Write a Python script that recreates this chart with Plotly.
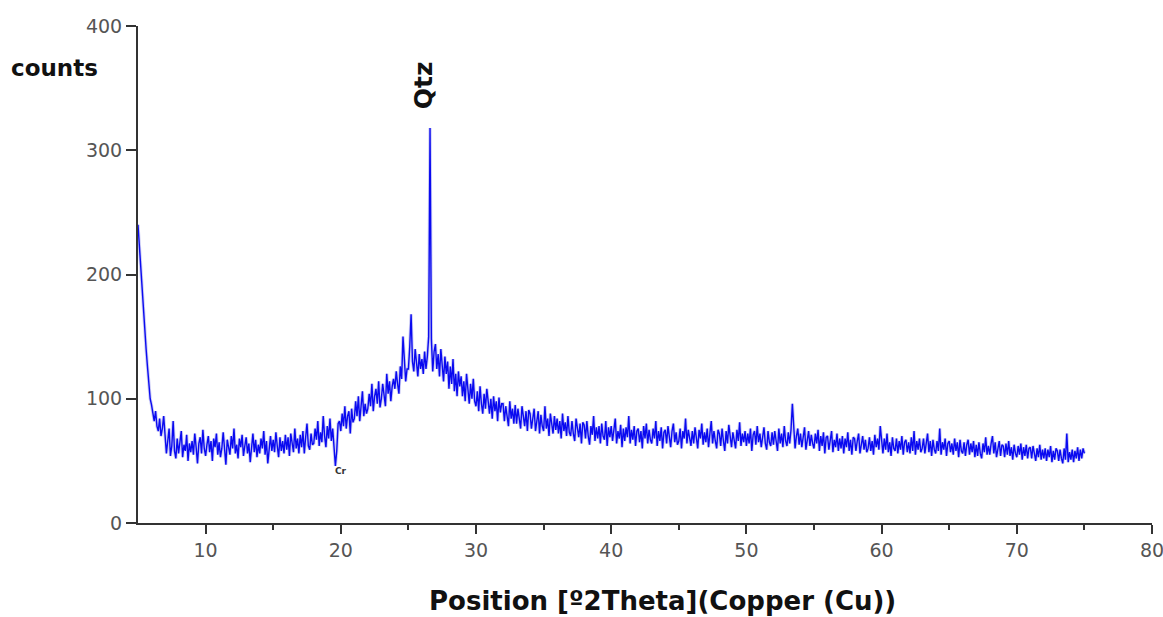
import plotly.graph_objects as go

# 2-theta positions (degrees), one row per degree
two_theta = [
    5.0, 5.1, 5.2, 5.3, 5.4, 5.5, 5.6, 5.7, 5.8, 5.9,
    6.0, 6.1, 6.2, 6.3, 6.4, 6.5, 6.6, 6.7, 6.8, 6.9,
    7.0, 7.1, 7.2, 7.3, 7.4, 7.5, 7.6, 7.7, 7.8, 7.9,
    8.0, 8.1, 8.2, 8.3, 8.4, 8.5, 8.6, 8.7, 8.8, 8.9,
    9.0, 9.1, 9.2, 9.3, 9.4, 9.5, 9.6, 9.7, 9.8, 9.9,
    10.0, 10.1, 10.2, 10.3, 10.4, 10.5, 10.6, 10.7, 10.8, 10.9,
    11.0, 11.1, 11.2, 11.3, 11.4, 11.5, 11.6, 11.7, 11.8, 11.9,
    12.0, 12.1, 12.2, 12.3, 12.4, 12.5, 12.6, 12.7, 12.8, 12.9,
    13.0, 13.1, 13.2, 13.3, 13.4, 13.5, 13.6, 13.7, 13.8, 13.9,
    14.0, 14.1, 14.2, 14.3, 14.4, 14.5, 14.6, 14.7, 14.8, 14.9,
    15.0, 15.1, 15.2, 15.3, 15.4, 15.5, 15.6, 15.7, 15.8, 15.9,
    16.0, 16.1, 16.2, 16.3, 16.4, 16.5, 16.6, 16.7, 16.8, 16.9,
    17.0, 17.1, 17.2, 17.3, 17.4, 17.5, 17.6, 17.7, 17.8, 17.9,
    18.0, 18.1, 18.2, 18.3, 18.4, 18.5, 18.6, 18.7, 18.8, 18.9,
    19.0, 19.1, 19.2, 19.3, 19.4, 19.5, 19.6, 19.7, 19.8, 19.9,
    20.0, 20.1, 20.2, 20.3, 20.4, 20.5, 20.6, 20.7, 20.8, 20.9,
    21.0, 21.1, 21.2, 21.3, 21.4, 21.5, 21.6, 21.7, 21.8, 21.9,
    22.0, 22.1, 22.2, 22.3, 22.4, 22.5, 22.6, 22.7, 22.8, 22.9,
    23.0, 23.1, 23.2, 23.3, 23.4, 23.5, 23.6, 23.7, 23.8, 23.9,
    24.0, 24.1, 24.2, 24.3, 24.4, 24.5, 24.6, 24.7, 24.8, 24.9,
    25.0, 25.1, 25.2, 25.3, 25.4, 25.5, 25.6, 25.7, 25.8, 25.9,
    26.0, 26.1, 26.2, 26.3, 26.4, 26.5, 26.6, 26.7, 26.8, 26.9,
    27.0, 27.1, 27.2, 27.3, 27.4, 27.5, 27.6, 27.7, 27.8, 27.9,
    28.0, 28.1, 28.2, 28.3, 28.4, 28.5, 28.6, 28.7, 28.8, 28.9,
    29.0, 29.1, 29.2, 29.3, 29.4, 29.5, 29.6, 29.7, 29.8, 29.9,
    30.0, 30.1, 30.2, 30.3, 30.4, 30.5, 30.6, 30.7, 30.8, 30.9,
    31.0, 31.1, 31.2, 31.3, 31.4, 31.5, 31.6, 31.7, 31.8, 31.9,
    32.0, 32.1, 32.2, 32.3, 32.4, 32.5, 32.6, 32.7, 32.8, 32.9,
    33.0, 33.1, 33.2, 33.3, 33.4, 33.5, 33.6, 33.7, 33.8, 33.9,
    34.0, 34.1, 34.2, 34.3, 34.4, 34.5, 34.6, 34.7, 34.8, 34.9,
    35.0, 35.1, 35.2, 35.3, 35.4, 35.5, 35.6, 35.7, 35.8, 35.9,
    36.0, 36.1, 36.2, 36.3, 36.4, 36.5, 36.6, 36.7, 36.8, 36.9,
    37.0, 37.1, 37.2, 37.3, 37.4, 37.5, 37.6, 37.7, 37.8, 37.9,
    38.0, 38.1, 38.2, 38.3, 38.4, 38.5, 38.6, 38.7, 38.8, 38.9,
    39.0, 39.1, 39.2, 39.3, 39.4, 39.5, 39.6, 39.7, 39.8, 39.9,
    40.0, 40.1, 40.2, 40.3, 40.4, 40.5, 40.6, 40.7, 40.8, 40.9,
    41.0, 41.1, 41.2, 41.3, 41.4, 41.5, 41.6, 41.7, 41.8, 41.9,
    42.0, 42.1, 42.2, 42.3, 42.4, 42.5, 42.6, 42.7, 42.8, 42.9,
    43.0, 43.1, 43.2, 43.3, 43.4, 43.5, 43.6, 43.7, 43.8, 43.9,
    44.0, 44.1, 44.2, 44.3, 44.4, 44.5, 44.6, 44.7, 44.8, 44.9,
    45.0, 45.1, 45.2, 45.3, 45.4, 45.5, 45.6, 45.7, 45.8, 45.9,
    46.0, 46.1, 46.2, 46.3, 46.4, 46.5, 46.6, 46.7, 46.8, 46.9,
    47.0, 47.1, 47.2, 47.3, 47.4, 47.5, 47.6, 47.7, 47.8, 47.9,
    48.0, 48.1, 48.2, 48.3, 48.4, 48.5, 48.6, 48.7, 48.8, 48.9,
    49.0, 49.1, 49.2, 49.3, 49.4, 49.5, 49.6, 49.7, 49.8, 49.9,
    50.0, 50.1, 50.2, 50.3, 50.4, 50.5, 50.6, 50.7, 50.8, 50.9,
    51.0, 51.1, 51.2, 51.3, 51.4, 51.5, 51.6, 51.7, 51.8, 51.9,
    52.0, 52.1, 52.2, 52.3, 52.4, 52.5, 52.6, 52.7, 52.8, 52.9,
    53.0, 53.1, 53.2, 53.3, 53.4, 53.5, 53.6, 53.7, 53.8, 53.9,
    54.0, 54.1, 54.2, 54.3, 54.4, 54.5, 54.6, 54.7, 54.8, 54.9,
    55.0, 55.1, 55.2, 55.3, 55.4, 55.5, 55.6, 55.7, 55.8, 55.9,
    56.0, 56.1, 56.2, 56.3, 56.4, 56.5, 56.6, 56.7, 56.8, 56.9,
    57.0, 57.1, 57.2, 57.3, 57.4, 57.5, 57.6, 57.7, 57.8, 57.9,
    58.0, 58.1, 58.2, 58.3, 58.4, 58.5, 58.6, 58.7, 58.8, 58.9,
    59.0, 59.1, 59.2, 59.3, 59.4, 59.5, 59.6, 59.7, 59.8, 59.9,
    60.0, 60.1, 60.2, 60.3, 60.4, 60.5, 60.6, 60.7, 60.8, 60.9,
    61.0, 61.1, 61.2, 61.3, 61.4, 61.5, 61.6, 61.7, 61.8, 61.9,
    62.0, 62.1, 62.2, 62.3, 62.4, 62.5, 62.6, 62.7, 62.8, 62.9,
    63.0, 63.1, 63.2, 63.3, 63.4, 63.5, 63.6, 63.7, 63.8, 63.9,
    64.0, 64.1, 64.2, 64.3, 64.4, 64.5, 64.6, 64.7, 64.8, 64.9,
    65.0, 65.1, 65.2, 65.3, 65.4, 65.5, 65.6, 65.7, 65.8, 65.9,
    66.0, 66.1, 66.2, 66.3, 66.4, 66.5, 66.6, 66.7, 66.8, 66.9,
    67.0, 67.1, 67.2, 67.3, 67.4, 67.5, 67.6, 67.7, 67.8, 67.9,
    68.0, 68.1, 68.2, 68.3, 68.4, 68.5, 68.6, 68.7, 68.8, 68.9,
    69.0, 69.1, 69.2, 69.3, 69.4, 69.5, 69.6, 69.7, 69.8, 69.9,
    70.0, 70.1, 70.2, 70.3, 70.4, 70.5, 70.6, 70.7, 70.8, 70.9,
    71.0, 71.1, 71.2, 71.3, 71.4, 71.5, 71.6, 71.7, 71.8, 71.9,
    72.0, 72.1, 72.2, 72.3, 72.4, 72.5, 72.6, 72.7, 72.8, 72.9,
    73.0, 73.1, 73.2, 73.3, 73.4, 73.5, 73.6, 73.7, 73.8, 73.9,
    74.0, 74.1, 74.2, 74.3, 74.4, 74.5, 74.6, 74.7, 74.8, 74.9,
    75.0,
]

# counts, same row layout as two_theta
counts = [
    240, 222, 205, 188, 172, 158, 140, 126, 112, 100,
    95, 88, 82, 90, 78, 74, 84, 70, 76, 86,
    70, 56, 66, 76, 54, 62, 82, 58, 52, 68,
    56, 66, 74, 53, 63, 58, 71, 50, 64, 57,
    66, 55, 72, 61, 48, 64, 69, 56, 75, 60,
    54, 63, 70, 57, 66, 50, 68, 61, 72, 55,
    65, 53, 60, 73, 56, 47, 67, 62, 55, 70,
    60, 76, 56, 63, 52, 68, 61, 71, 54, 62,
    69, 56, 64, 49, 62, 72, 57, 67, 53, 63,
    56, 68, 60, 74, 55, 66, 48, 61, 70, 58,
    67, 57, 73, 62, 53, 69, 58, 66, 56, 71,
    59, 69, 54, 72, 63, 57, 76, 60, 68, 56,
    71, 61, 74, 56, 69, 80, 62, 59, 72, 63,
    64, 76, 67, 82, 62, 73, 65, 86, 70, 61,
    78, 68, 84, 66, 76, 62, 46, 58, 80, 82,
    74, 88, 78, 94, 76, 86, 90, 72, 92, 81,
    84, 98, 86, 102, 82, 94, 106, 86, 96, 88,
    92, 104, 94, 112, 90, 102, 108, 96, 114, 93,
    100, 112, 102, 94, 120, 104, 114, 98, 110, 116,
    108, 122, 112, 104, 126, 116, 150, 128, 114, 124,
    124, 142, 168, 130, 122, 140, 126, 118, 136, 124,
    132, 120, 138, 124, 134, 150, 318, 148, 122, 138,
    144, 124, 136, 118, 140, 122, 114, 134, 120, 130,
    108, 126, 112, 132, 106, 120, 102, 122, 110, 118,
    102, 114, 98, 120, 104, 96, 112, 100, 116, 98,
    94, 106, 90, 110, 96, 88, 104, 92, 108, 95,
    88, 100, 84, 102, 90, 98, 82, 101, 89, 96,
    96, 82, 94, 86, 78, 98, 84, 92, 80, 95,
    80, 92, 82, 76, 94, 84, 78, 90, 74, 91,
    88, 76, 86, 92, 74, 84, 90, 72, 87, 78,
    74, 94, 76, 84, 70, 88, 78, 72, 86, 75,
    84, 72, 82, 68, 88, 74, 81, 70, 86, 73,
    70, 82, 72, 66, 84, 74, 69, 80, 64, 81,
    79, 68, 82, 70, 63, 78, 71, 86, 66, 77,
    68, 78, 64, 80, 70, 67, 82, 62, 77, 69,
    78, 66, 76, 84, 64, 74, 68, 79, 61, 76,
    66, 77, 69, 86, 64, 75, 67, 78, 62, 74,
    76, 65, 74, 60, 78, 68, 80, 64, 75, 67,
    64, 76, 68, 82, 62, 74, 66, 77, 60, 73,
    75, 64, 78, 67, 61, 74, 80, 65, 73, 63,
    66, 76, 60, 74, 68, 84, 64, 75, 67, 62,
    74, 64, 77, 66, 60, 75, 68, 80, 63, 73,
    65, 76, 61, 72, 82, 64, 74, 66, 60, 75,
    72, 62, 76, 66, 58, 74, 64, 79, 67, 61,
    73, 64, 60, 75, 66, 81, 62, 72, 65, 74,
    62, 72, 64, 76, 58, 71, 74, 63, 78, 65,
    72, 61, 70, 77, 64, 59, 74, 65, 62, 73,
    63, 74, 66, 58, 76, 64, 72, 61, 78, 66,
    62, 73, 64, 75, 96, 72, 60, 70, 76, 63,
    72, 61, 70, 77, 59, 69, 74, 62, 71, 64,
    60, 72, 64, 75, 58, 70, 62, 73, 56, 69,
    70, 59, 68, 74, 57, 67, 61, 72, 58, 68,
    60, 70, 56, 68, 61, 73, 58, 67, 55, 69,
    68, 58, 66, 72, 56, 65, 70, 59, 67, 57,
    60, 69, 58, 66, 55, 71, 61, 68, 59, 78,
    66, 56, 68, 59, 72, 57, 65, 54, 69, 60,
    58, 68, 56, 66, 59, 70, 55, 65, 67, 57,
    65, 56, 69, 58, 74, 55, 66, 59, 68, 57,
    60, 68, 56, 65, 72, 57, 66, 54, 67, 59,
    56, 66, 58, 76, 55, 65, 59, 68, 54, 64,
    66, 57, 64, 55, 68, 58, 65, 53, 67, 58,
    56, 65, 54, 63, 67, 55, 64, 57, 66, 53,
    63, 54, 65, 56, 52, 64, 57, 69, 55, 62,
    55, 64, 70, 56, 65, 53, 62, 66, 54, 63,
    62, 53, 64, 55, 66, 54, 61, 51, 63, 56,
    53, 62, 55, 64, 51, 61, 54, 63, 52, 60,
    61, 52, 62, 54, 50, 60, 53, 63, 51, 59,
    52, 60, 50, 59, 53, 62, 49, 58, 51, 60,
    58, 50, 59, 52, 48, 60, 51, 72, 49, 57,
    51, 59, 49, 58, 52, 61, 50, 59, 52, 60,
    56,
]

x_ticks = [10, 20, 30, 40, 50, 60, 70, 80]
x_minor_ticks = [15, 25, 35, 45, 55, 65, 75]
y_ticks = [0, 100, 200, 300, 400]

FONT = "DejaVu Sans, Liberation Sans, Arial, sans-serif"

fig = go.Figure()
# soft halo underneath, then the main blue trace (same data)
fig.add_trace(go.Scatter(
    x=two_theta, y=counts, mode="lines",
    line=dict(color="rgba(110,110,225,0.35)", width=3.2),
    showlegend=False, hoverinfo="skip",
))
fig.add_trace(go.Scatter(
    x=two_theta, y=counts, mode="lines",
    line=dict(color="rgb(10,10,240)", width=1.4),
    showlegend=False,
))

axis_font = dict(family=FONT, size=19, color="#555")

fig.update_layout(
    width=1163, height=617,
    margin=dict(l=138, r=11, t=26, b=94, autoexpand=False),
    paper_bgcolor="white", plot_bgcolor="white",
    xaxis=dict(
        range=[5, 80], tickvals=x_ticks, ticktext=[str(t) for t in x_ticks],
        showgrid=False, zeroline=False, showline=True, linecolor="#333", linewidth=2,
        ticks="outside", ticklen=9, tickwidth=2, tickcolor="#333",
        minor=dict(tickvals=x_minor_ticks, ticks="outside", ticklen=5,
                   tickwidth=2, tickcolor="#333", showgrid=False),
        tickfont=axis_font, ticklabeloverflow="allow", automargin=False,
    ),
    yaxis=dict(
        range=[0, 400], tickvals=y_ticks, ticktext=[str(t) for t in y_ticks],
        showgrid=False, zeroline=False, showline=True, linecolor="#333", linewidth=2,
        ticks="outside", ticklen=10, tickwidth=2, tickcolor="#333",
        tickfont=axis_font, automargin=False,
    ),
    annotations=[
        dict(text="<b>counts</b>", xref="paper", yref="paper", x=-0.0828, y=0.9155,
             xanchor="center", yanchor="middle", showarrow=False,
             font=dict(family=FONT, size=23, color="#111")),
        dict(text="<b>Qtz</b>", xref="x", yref="y", x=26.12, y=352, textangle=-90,
             xanchor="center", yanchor="middle", showarrow=False,
             font=dict(family=FONT, size=25, color="#111")),
        dict(text="<b>Cr</b>", xref="x", yref="y", x=19.98, y=42,
             xanchor="center", yanchor="middle", showarrow=False,
             font=dict(family=FONT, size=9, color="#333")),
        dict(text="<b>Position [º2Theta](Copper (Cu))</b>", xref="paper", yref="paper",
             x=0.5168, y=-0.157, xanchor="center", yanchor="middle", showarrow=False,
             font=dict(family=FONT, size=26, color="#111")),
    ],
)

# remove the default 8px page margin so the 1163x617 figure fills the window exactly
fig.write_html(
    "out.html",
    config={"displayModeBar": False},
    post_script="document.body.style.margin='0';document.body.style.overflow='hidden';",
)
